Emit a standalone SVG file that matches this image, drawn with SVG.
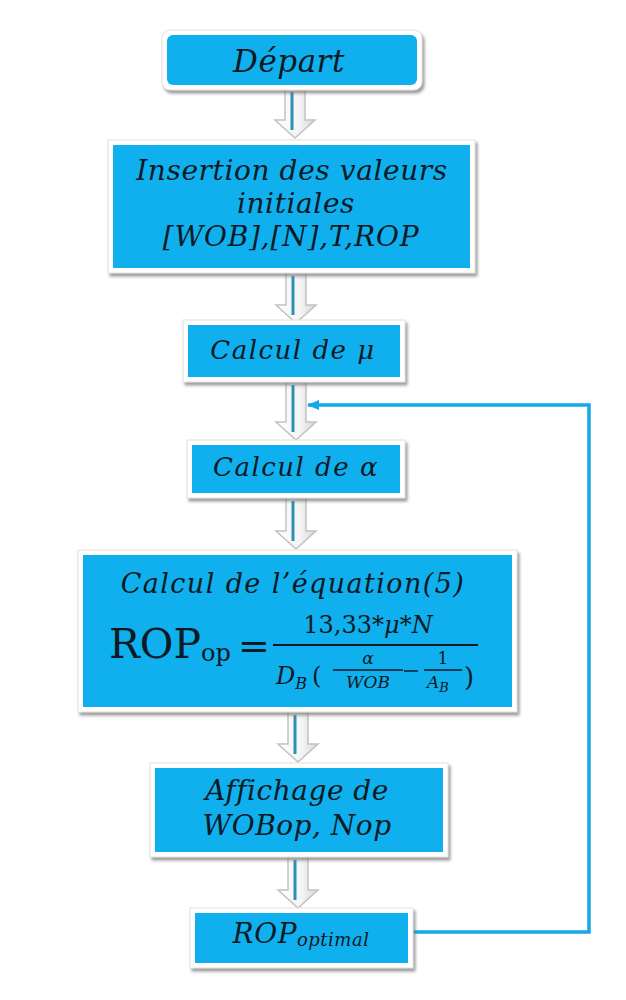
<svg xmlns="http://www.w3.org/2000/svg" width="626" height="1000" viewBox="0 0 626 1000">
<defs>
  <filter id="sh" x="-10%" y="-10%" width="120%" height="130%">
    <feDropShadow dx="2" dy="3" stdDeviation="1.5" flood-color="#7a7a7a" flood-opacity="0.75"/>
  </filter>
  <linearGradient id="ag" x1="0" y1="0" x2="1" y2="0">
    <stop offset="0" stop-color="#ffffff"/>
    <stop offset="0.6" stop-color="#f4f4f4"/>
    <stop offset="1" stop-color="#d6d6d6"/>
  </linearGradient>
  <marker id="ah" viewBox="0 0 12 10" refX="11" refY="5" markerWidth="12" markerHeight="10" markerUnits="userSpaceOnUse" orient="auto">
    <path d="M0,0 L12,5 L0,10 Z" fill="#16a8e6"/>
  </marker>
</defs>
<style>
  .frame{fill:#ffffff;stroke:#e2e2e2;stroke-width:1;filter:url(#sh)}
  .box{fill:#10b0ee}
  .t{font-family:"DejaVu Serif","Liberation Serif",serif;font-style:italic;fill:#0b1a24;text-anchor:middle}
  .arrow{fill:url(#ag);stroke:#c2c2c2;stroke-width:1.5;stroke-linejoin:miter}
  .core{stroke:#2f90b2;stroke-width:3;fill:none}
  .loop{fill:none;stroke:#16a8e6;stroke-width:3.5}
  .m{font-family:"DejaVu Serif","Liberation Serif",serif;fill:#0b1a24}
</style>
<rect width="626" height="1000" fill="#ffffff"/>

<g id="connectors">
  <path class="arrow" d="M285,86 V120 H275 L295,138 L315,120 H305 V86 Z"/>
  <line class="core" x1="292" y1="92" x2="292" y2="130"/>
  <path class="arrow" d="M286,270 V305 H276 L296,323 L316,305 H306 V270 Z"/>
  <line class="core" x1="293" y1="276" x2="293" y2="315"/>
  <path class="arrow" d="M286,379 V422 H276 L296,440 L316,422 H306 V379 Z"/>
  <line class="core" x1="293" y1="385" x2="293" y2="432"/>
  <path class="arrow" d="M286,495 V531 H276 L296,549 L316,531 H306 V495 Z"/>
  <line class="core" x1="293" y1="501" x2="293" y2="541"/>
  <path class="arrow" d="M288,709 V744 H278 L298,762 L318,744 H308 V709 Z"/>
  <line class="core" x1="295" y1="715" x2="295" y2="754"/>
  <path class="arrow" d="M288,854 V890 H278 L298,908 L318,890 H308 V854 Z"/>
  <line class="core" x1="295" y1="860" x2="295" y2="900"/>
  <path class="loop" d="M413,932 H589 V405 H308" marker-end="url(#ah)"/>
</g>

<g id="depart">
  <rect class="frame" x="162" y="30" width="260" height="60" rx="8"/>
  <rect class="box" x="167" y="35" width="250" height="50" rx="6"/>
  <text class="t" x="289" y="72" font-size="31" letter-spacing="0.5">Départ</text>
</g>

<g id="insertion">
  <rect class="frame" x="108" y="140" width="367" height="133"/>
  <rect class="box" x="113" y="145" width="357" height="123"/>
  <text class="t" x="292" y="180" font-size="28" letter-spacing="0.6">Insertion des valeurs</text>
  <text class="t" x="296" y="213" font-size="28" letter-spacing="0.6">initiales</text>
  <text class="t" x="291" y="246" font-size="28" letter-spacing="0.8">[WOB],[N],T,ROP</text>
</g>

<g id="calcul-mu">
  <rect class="frame" x="183" y="320" width="222" height="62"/>
  <rect class="box" x="188" y="325" width="212" height="52"/>
  <text class="t" x="293" y="359" font-size="26" letter-spacing="1.5">Calcul de μ</text>
</g>

<g id="calcul-alpha">
  <rect class="frame" x="187" y="440" width="218" height="58"/>
  <rect class="box" x="192" y="445" width="208" height="48"/>
  <text class="t" x="296" y="476" font-size="26" letter-spacing="1.5">Calcul de α</text>
</g>

<g id="equation">
  <rect class="frame" x="78" y="550" width="439" height="162"/>
  <rect class="box" x="83" y="555" width="429" height="152"/>
  <text class="t" x="293" y="593" font-size="27" letter-spacing="1.4">Calcul de l’équation(5)</text>
  <text class="m" x="109" y="658" font-size="41" font-family="Liberation Serif, serif">ROP<tspan font-size="24" dy="3">op</tspan></text>
  <text class="m" x="238" y="659" font-size="38" font-family="Liberation Serif, serif">=</text>
  <line x1="273" y1="645" x2="478" y2="645" stroke="#0b1a24" stroke-width="2"/>
  <text class="m" x="368" y="633" font-size="24" text-anchor="middle">13,33<tspan font-style="italic">*μ*N</tspan></text>
  <text class="m" x="276" y="684" font-size="24" font-style="italic">D<tspan font-size="16" dy="5">B</tspan></text>
  <text class="m" x="312" y="684" font-size="24">(</text>
  <text class="m" x="368" y="664" font-size="17" font-style="italic" text-anchor="middle">α</text>
  <line x1="333" y1="670" x2="403" y2="670" stroke="#0b1a24" stroke-width="1.5"/>
  <text class="m" x="368" y="688" font-size="17" font-style="italic" text-anchor="middle">WOB</text>
  <line x1="404" y1="671" x2="418" y2="671" stroke="#0b1a24" stroke-width="1.5"/>
  <text class="m" x="443" y="664" font-size="17" text-anchor="middle">1</text>
  <line x1="424" y1="670" x2="462" y2="670" stroke="#0b1a24" stroke-width="1.5"/>
  <text class="m" x="427" y="688" font-size="17" font-style="italic">A<tspan font-size="13" dy="4">B</tspan></text>
  <text class="m" x="464" y="686" font-size="26">)</text>
</g>

<g id="affichage">
  <rect class="frame" x="150" y="763" width="298" height="94"/>
  <rect class="box" x="155" y="768" width="288" height="84"/>
  <text class="t" x="297" y="800" font-size="28" letter-spacing="0.5">Affichage de</text>
  <text class="t" x="297" y="835" font-size="28" letter-spacing="0.5">WOBop, Nop</text>
</g>

<g id="rop-optimal">
  <rect class="frame" x="190" y="908" width="223" height="60"/>
  <rect class="box" x="195" y="913" width="213" height="50"/>
  <text class="t" x="301" y="943" font-size="28" letter-spacing="0.5">ROP<tspan font-size="18" dy="3">optimal</tspan></text>
</g>
</svg>
